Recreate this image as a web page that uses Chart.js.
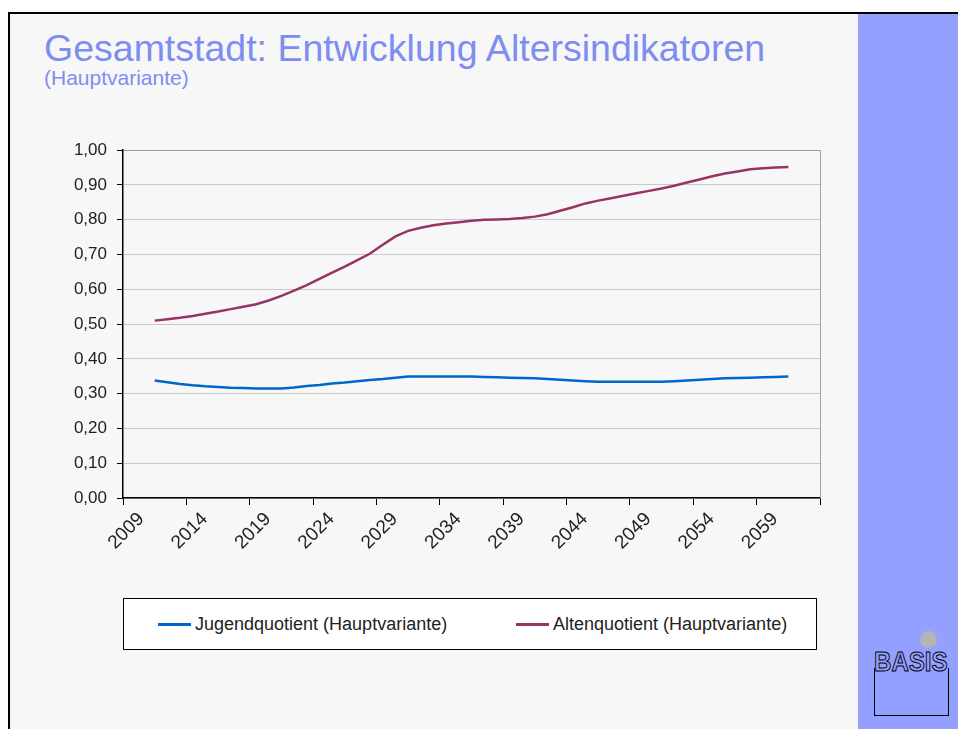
<!DOCTYPE html>
<html>
<head>
<meta charset="utf-8">
<script src="https://cdn.jsdelivr.net/npm/chart.js@4.4.0/dist/chart.umd.min.js"></script>
<style>
  body { margin: 0; background: #fff; width: 958px; height: 729px; overflow: hidden; position: relative;
         font-family: "Liberation Sans", Arial, Helvetica, sans-serif; }
  #frame { position: absolute; left: 8px; top: 12px; right: 0; bottom: 0; background: #f7f7f7;
           border-top: 2px solid #000; border-left: 2px solid #000; }
  #panel { position: absolute; left: 858px; top: 14px; width: 100px; bottom: 0; background: #94a0ff; }
  #title { position: absolute; left: 44px; top: 30px; margin: 0; font-weight: normal; font-size: 37.5px;
           line-height: 37px; color: #7d8ef0; white-space: nowrap; }
  #subtitle { position: absolute; left: 44px; top: 67px; font-size: 21px; line-height: 21px; color: #7d8ef0; }
  #chartBox { position: absolute; left: 60px; top: 130px; width: 790px; height: 450px; }
  #legend { position: absolute; left: 123px; top: 598px; width: 694px; height: 52px; box-sizing: border-box;
            background: #fff; border: 1px solid #000; }
  .item { position: absolute; top: 0; height: 50px; display: flex; align-items: center;
          font-size: 18px; color: #222; white-space: nowrap; }
  .item span.line { display: inline-block; width: 33px; height: 3px; margin-right: 4px; }
  #dot { position: absolute; left: 920px; top: 631px; width: 17px; height: 17px; border-radius: 50%; background: #b4b4b4; }
  #logoText { position: absolute; left: 874px; top: 648px; font-family: "Liberation Sans", Arial, sans-serif;
              font-weight: bold; font-size: 28px; line-height: 28px; color: #94a0ff;
              -webkit-text-stroke: 1px #000; transform: scaleX(0.86); transform-origin: 0 0; }
  #logoBox { position: absolute; left: 874px; top: 668px; width: 75px; height: 48px; box-sizing: border-box;
             border: 1.5px solid #000; border-top: none; }
</style>
</head>
<body>
<div id="frame"></div>
<div id="panel"></div>
<div id="dot"></div>
<div id="logoBox"></div>
<div id="logoText">BASIS</div>
<h1 id="title">Gesamtstadt: Entwicklung Altersindikatoren</h1>
<div id="subtitle">(Hauptvariante)</div>
<div id="chartBox"><canvas id="altersChart"></canvas></div>
<div id="legend"></div>
<script>
// Categories (years) and series values
const years = ['2009','2010','2011','2012','2013','2014','2015','2016','2017','2018',
  '2019','2020','2021','2022','2023','2024','2025','2026','2027','2028',
  '2029','2030','2031','2032','2033','2034','2035','2036','2037','2038',
  '2039','2040','2041','2042','2043','2044','2045','2046','2047','2048',
  '2049','2050','2051','2052','2053','2054','2055','2056','2057','2058',
  '2059','2060','2061','2062','2063'];

const jugendquotient = [null, null,
  0.338, 0.333, 0.328, 0.324, 0.321, 0.319, 0.317, 0.316, 0.315, 0.315,
  0.315, 0.318, 0.322, 0.325, 0.329, 0.332, 0.336, 0.339, 0.342, 0.346,
  0.349, 0.349, 0.349, 0.349, 0.349, 0.349, 0.348, 0.347, 0.346, 0.345,
  0.344, 0.342, 0.340, 0.338, 0.336, 0.334, 0.334, 0.334, 0.334, 0.334,
  0.334, 0.336, 0.338, 0.340, 0.342, 0.344, 0.345, 0.346, 0.347, 0.348,
  0.349, null, null];

const altenquotient = [null, null,
  0.510, 0.514, 0.518, 0.523, 0.530, 0.536, 0.543, 0.550, 0.557, 0.568,
  0.581, 0.596, 0.612, 0.630, 0.648, 0.665, 0.684, 0.703, 0.728, 0.752,
  0.768, 0.777, 0.784, 0.789, 0.793, 0.797, 0.800, 0.801, 0.802, 0.805,
  0.809, 0.816, 0.826, 0.836, 0.847, 0.855, 0.862, 0.869, 0.876, 0.883,
  0.890, 0.898, 0.907, 0.916, 0.925, 0.933, 0.939, 0.945, 0.948, 0.950,
  0.952, null, null];

const seriesNames = ['Jugendquotient (Hauptvariante)', 'Altenquotient (Hauptvariante)'];
const seriesColors = ['#0066cc', '#993366'];

const tickFont = { family: '"Liberation Sans", Arial, sans-serif', size: 17 };
const yearFont = { family: '"Liberation Sans", Arial, sans-serif', size: 19 };

// grey line on the right edge of the plot area
const plotFrame = {
  id: 'plotFrame',
  beforeDatasetsDraw(chart) {
    const { ctx, chartArea: a } = chart;
    ctx.save();
    ctx.strokeStyle = '#a0a0a0';
    ctx.lineWidth = 1;
    ctx.beginPath();
    ctx.moveTo(a.right + 0.5, a.top);
    ctx.lineTo(a.right + 0.5, a.bottom);
    ctx.stroke();
    ctx.restore();
  }
};

const everyFifth = c => (c.index === undefined || c.index % 5 === 0) ? '#000' : 'rgba(0,0,0,0)';

const ctx = document.getElementById('altersChart').getContext('2d');
const chart = new Chart(ctx, {
  type: 'line',
  data: {
    labels: years,
    datasets: [{
      label: seriesNames[0],
      data: jugendquotient,
      borderColor: seriesColors[0],
      backgroundColor: seriesColors[0],
      borderWidth: 2.5,
      pointRadius: 0,
      tension: 0
    }, {
      label: seriesNames[1],
      data: altenquotient,
      borderColor: seriesColors[1],
      backgroundColor: seriesColors[1],
      borderWidth: 2.5,
      pointRadius: 0,
      tension: 0
    }]
  },
  options: {
    responsive: true,
    maintainAspectRatio: false,
    animation: false,
    layout: { padding: { left: 0, right: 30, top: 18, bottom: 22 } },
    plugins: { legend: { display: false }, tooltip: { enabled: false } },
    scales: {
      x: {
        type: 'category',
        offset: true,
        grid: { offset: true, drawOnChartArea: false, tickLength: 7, color: everyFifth, tickColor: everyFifth },
        border: { color: '#000', width: 1.5 },
        ticks: {
          autoSkip: false, minRotation: 45, maxRotation: 45, padding: 3, labelOffset: 12,
          font: yearFont, color: '#222',
          callback: (v, i) => i % 5 === 0 ? years[i] : ''
        },
        afterFit(s) { s.height = 60; }
      },
      y: {
        min: 0, max: 1,
        grid: {
          color: c => Math.abs(c.tick.value - 1) < 1e-6 ? '#9a9a9a' : '#c8c8c8',
          tickColor: '#000', tickLength: 6
        },
        border: { color: '#000', width: 1.5 },
        ticks: {
          stepSize: 0.1, padding: 10, font: tickFont, color: '#222',
          callback: v => v.toFixed(2).replace('.', ',')
        },
        afterFit(s) { s.width = 63; }
      }
    }
  },
  plugins: [plotFrame]
});

// legend box built from the chart's datasets
const legend = document.getElementById('legend');
const itemLeft = [34, 392];
chart.data.datasets.forEach((ds, i) => {
  const item = document.createElement('div');
  item.className = 'item';
  item.style.left = itemLeft[i] + 'px';
  const line = document.createElement('span');
  line.className = 'line';
  line.style.background = ds.borderColor;
  item.appendChild(line);
  item.appendChild(document.createTextNode(ds.label));
  legend.appendChild(item);
});
</script>
</body>
</html>
